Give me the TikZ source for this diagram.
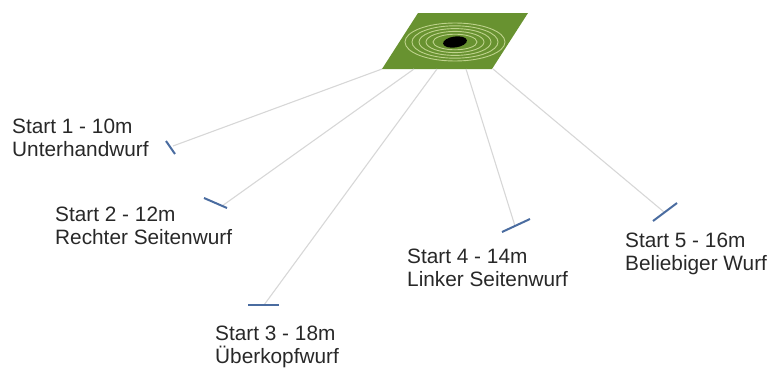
\documentclass[tikz,border=0pt]{standalone}
\usepackage{fontspec}
\setmainfont{Liberation Sans}
\definecolor{padgreen}{RGB}{104,146,48}
\definecolor{ringcol}{RGB}{190,210,140}
\definecolor{throwline}{RGB}{215,215,215}
\definecolor{markblue}{RGB}{74,108,160}
\definecolor{labeltext}{RGB}{40,40,40}
\tikzset{
  throw/.style={draw=throwline, line width=1.1pt},
  startmark/.style={draw=markblue, line width=2pt},
  startlabel/.style={anchor=base west, align=left, inner sep=0pt, text=labeltext,
    font=\fontsize{20.8}{23}\selectfont},
  ring/.style={draw=ringcol, line width=0.9pt}
}
\begin{document}
\begin{tikzpicture}[x=1pt,y=-1pt]
\useasboundingbox (0,0) rectangle (771,367);

% target pad
\fill[padgreen] (418,13) -- (528,13) -- (492,69) -- (382,69) -- cycle;
\foreach \rx/\ry in {50/19, 43/16.2, 36/13.4, 29/10.6, 22/7.8}
  \draw[ring] (455,42) ellipse [x radius=\rx, y radius=\ry];
\fill[black, rotate around={8:(455,42)}] (455,42) ellipse [x radius=12, y radius=5.5];

% exit points on the lower pad edge
\coordinate (p1) at (382,69);
\coordinate (p2) at (414,69);
\coordinate (p3) at (437,69);
\coordinate (p4) at (466,69);
\coordinate (p5) at (493,69);

% start marks
\coordinate (s1a) at (166,141); \coordinate (s1b) at (175,154);
\coordinate (s2a) at (204,198); \coordinate (s2b) at (227,208);
\coordinate (s3a) at (248,305); \coordinate (s3b) at (279,305);
\coordinate (s4a) at (502,232); \coordinate (s4b) at (530,219);
\coordinate (s5a) at (653,221); \coordinate (s5b) at (677,203);

\coordinate (e1) at (173,146);
\coordinate (e2) at (222,206);
\coordinate (e3) at (264,305);
\coordinate (e4) at (515,226);
\coordinate (e5) at (664,212);

% throw lines
\foreach \i in {1,...,5} \draw[throw] (p\i) -- (e\i);
\foreach \i in {1,...,5} \draw[startmark] (s\i a) -- (s\i b);

% labels (anchored at the baseline of the second line)
\node[startlabel] (l1) at (12,156) {Start 1 - 10m\\Unterhandwurf};
\node[startlabel] (l2) at (55,244) {Start 2 - 12m\\Rechter Seitenwurf};
\node[startlabel] (l3) at (215,363) {Start 3 - 18m\\Überkopfwurf};
\node[startlabel] (l4) at (407,286) {Start 4 - 14m\\Linker Seitenwurf};
\node[startlabel] (l5) at (625,270) {Start 5 - 16m\\Beliebiger Wurf};
\end{tikzpicture}
\end{document}
